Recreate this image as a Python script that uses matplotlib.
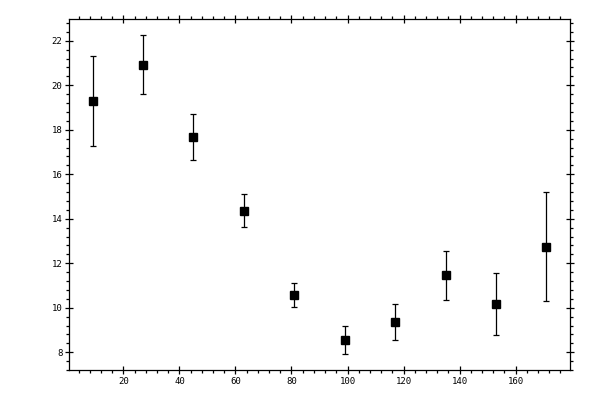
import numpy as np
import matplotlib
matplotlib.use('Agg')
import matplotlib.pyplot as plt
from matplotlib.ticker import MultipleLocator

# data
angle = [9, 27, 45, 63, 81, 99, 117, 135, 153, 171]
value = [19.30, 20.93, 17.68, 14.37, 10.59, 8.56, 9.37, 11.46, 10.17, 12.75]
err = [2.01, 1.33, 1.05, 0.75, 0.54, 0.63, 0.81, 1.10, 1.38, 2.47]

fig = plt.figure(figsize=(6, 4), dpi=100)
ax = fig.add_axes([0.1155, 0.075, 0.835, 0.8775])

ax.errorbar(angle, value, yerr=err, fmt='s', color='black', markersize=5.2,
            elinewidth=0.9, capsize=1.9, capthick=0.9)

ax.set_xlim(0.7, 179.5)
ax.set_ylim(7.2, 22.98)

ax.xaxis.set_major_locator(MultipleLocator(20))
ax.xaxis.set_minor_locator(MultipleLocator(4))
ax.yaxis.set_major_locator(MultipleLocator(2))
ax.yaxis.set_minor_locator(MultipleLocator(0.4))

for s in ax.spines.values():
    s.set_linewidth(0.9)

ax.tick_params(which='major', direction='inout', length=6, width=0.9,
               top=True, right=True, labelsize=6.5, pad=2)
ax.tick_params(which='minor', direction='out', length=2.3, width=0.9,
               top=True, right=True)
for lab in ax.get_xticklabels() + ax.get_yticklabels():
    lab.set_family('DejaVu Sans Mono')

fig.savefig('out.png', dpi=100)
